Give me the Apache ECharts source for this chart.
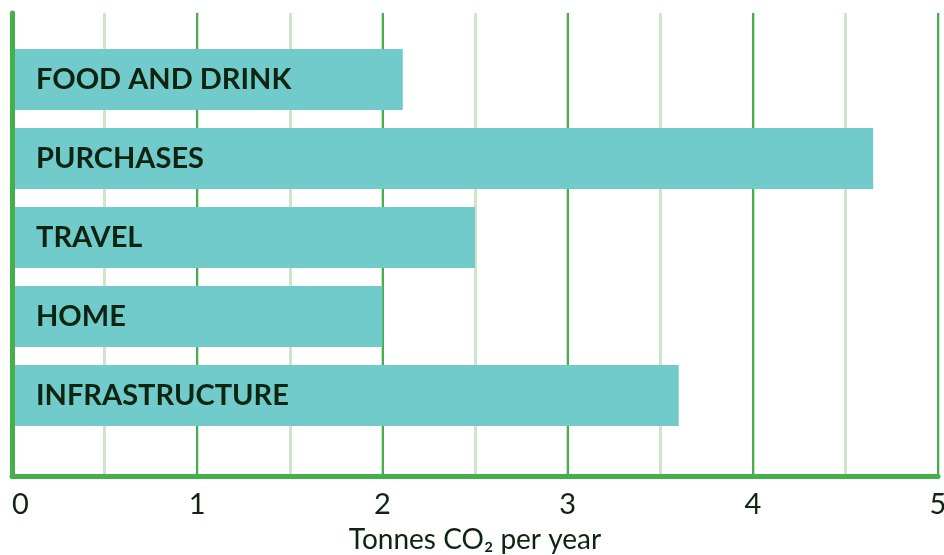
<!DOCTYPE html>
<html>
<head>
<meta charset="utf-8">
<script src="https://cdn.jsdelivr.net/npm/echarts@6/dist/echarts.min.js"></script>
<style>
  html, body { margin: 0; padding: 0; background: #fff; }
  #chart { width: 944px; height: 555px; }
</style>
</head>
<body>
<div id="chart"></div>
<script>
const categories = ['FOOD AND DRINK', 'PURCHASES', 'TRAVEL', 'HOME', 'INFRASTRUCTURE']
const values = [2.11, 4.65, 2.5, 2.0, 3.6]
const tickLabels = ['0', '1', '2', '3', '4', '5']

const axisGreen = '#45b04b'
const minorGreen = '#cfe5c9'
const barColor = '#71cbcb'
const textDark = '#0d2410'

const chart = echarts.init(document.getElementById('chart'))

const option = {
  animation: false,
  grid: [
    { left: 12, right: 6, top: 13, bottom: 79, outerBoundsMode: 'none' },
    { left: 12, right: 6, top: 40, bottom: 120, outerBoundsMode: 'none' }
  ],
  xAxis: [
    // minor lines every 0.5
    {
      gridIndex: 0, type: 'value', min: 0, max: 5, interval: 0.5,
      axisLine: { show: false }, axisTick: { show: false }, axisLabel: { show: false },
      splitLine: { show: true, lineStyle: { color: minorGreen, width: 3 } },
      z: 0
    },
    // major lines every 1 with labels
    {
      gridIndex: 0, type: 'value', min: 0, max: 5, interval: 1, position: 'bottom',
      axisLine: { show: true, onZero: false, lineStyle: { color: axisGreen, width: 5 } },
      axisTick: { show: false },
      axisLabel: {
        show: true, margin: 14, color: textDark, fontFamily: 'Lato', fontSize: 29,
        alignMinLabel: 'left',
        formatter: v => tickLabels[Math.round(v)]
      },
      splitLine: { show: true, lineStyle: { color: axisGreen, width: 2 } },
      name: 'Tonnes CO\u2082 per year',
      nameLocation: 'middle',
      nameGap: 50,
      nameTextStyle: { color: textDark, fontFamily: 'Lato', fontSize: 28 },
      z: 1
    },
    // bars
    {
      gridIndex: 1, type: 'value', min: 0, max: 5, show: false
    }
  ],
  yAxis: [
    {
      gridIndex: 0, type: 'value', min: 0, max: 1,
      axisLine: { show: true, lineStyle: { color: axisGreen, width: 5 } },
      axisTick: { show: false }, axisLabel: { show: false }, splitLine: { show: false },
      z: 3
    },
    {
      gridIndex: 1, type: 'category', data: categories, inverse: true, show: false
    }
  ],
  series: [
    {
      type: 'bar',
      xAxisIndex: 2,
      yAxisIndex: 1,
      data: values,
      barWidth: 61,
      itemStyle: { color: barColor },
      label: {
        show: true,
        position: 'insideLeft',
        distance: 24,
        formatter: p => p.name,
        color: textDark,
        fontFamily: 'Lato',
        fontWeight: 'bold',
        fontSize: 29
      },
      z: 2
    }
  ]
}

chart.setOption(option)
</script>
</body>
</html>
